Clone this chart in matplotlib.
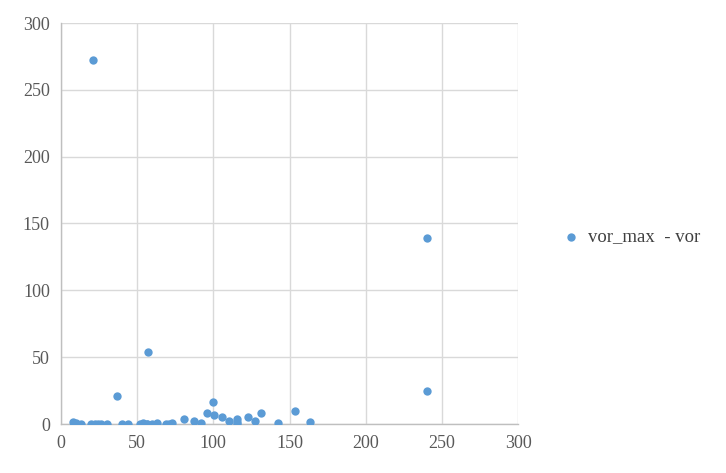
import matplotlib.pyplot as plt

# vor_max - vor vs x
x_vals = [8, 10, 13, 20, 22, 24, 26, 30, 21, 36.8, 40, 44, 52, 54, 56.5, 57, 60, 63, 69, 71, 73,
          56.5, 80.8, 87, 92, 95.8, 99.8, 100.4, 106, 110, 115.5, 115.5, 115.5, 122.8, 127.4,
          131, 142.5, 153.6, 163.5, 240, 240]
y_vals = [1.5, 0.5, 0, 0, 0.2, 0, 0, 0, 272.3, 21, 0, 0, 0, 0.5, 0.3, 53.5, 0, 0.8, 0, 0.3, 1,
          0, 3.5, 2.5, 0.5, 8, 16.5, 6.5, 5.5, 2.5, 4, 1.5, 0, 5.5, 2.5,
          8.5, 0.5, 9.5, 1.5, 139.5, 25]

series_name = "vor_max  - vor"
x_ticks = [0, 50, 100, 150, 200, 250, 300]
y_ticks = [0, 50, 100, 150, 200, 250, 300]

plt.rcParams['font.family'] = ['Liberation Serif', 'DejaVu Serif']

fig = plt.figure(figsize=(7.26, 4.73), dpi=100)
ax = fig.add_axes([61 / 726, 1 - 424 / 473, 457 / 726, 401 / 473])

ax.scatter(x_vals, y_vals, s=36, color='#5B9BD5', linewidths=0, zorder=3, label=series_name)

ax.set_xlim(0, 300)
ax.set_ylim(0, 300)
ax.set_xticks(x_ticks)
ax.set_yticks(y_ticks)
ax.grid(True, color='#D9D9D9', linewidth=1)
ax.set_axisbelow(True)
for side in ['top', 'right']:
    ax.spines[side].set_visible(False)
for side in ['left', 'bottom']:
    ax.spines[side].set_color('#BFBFBF')
    ax.spines[side].set_linewidth(1)
ax.tick_params(length=0, labelsize=13, colors='#595959', pad=8)

fig.legend(loc='center left', bbox_to_anchor=(562 / 726, 1 - 237 / 473), frameon=False,
           fontsize=13.5, handlelength=1.0, handletextpad=0.4, borderpad=0, borderaxespad=0,
           labelcolor='#404040')

fig.savefig('out.png', dpi=100)
